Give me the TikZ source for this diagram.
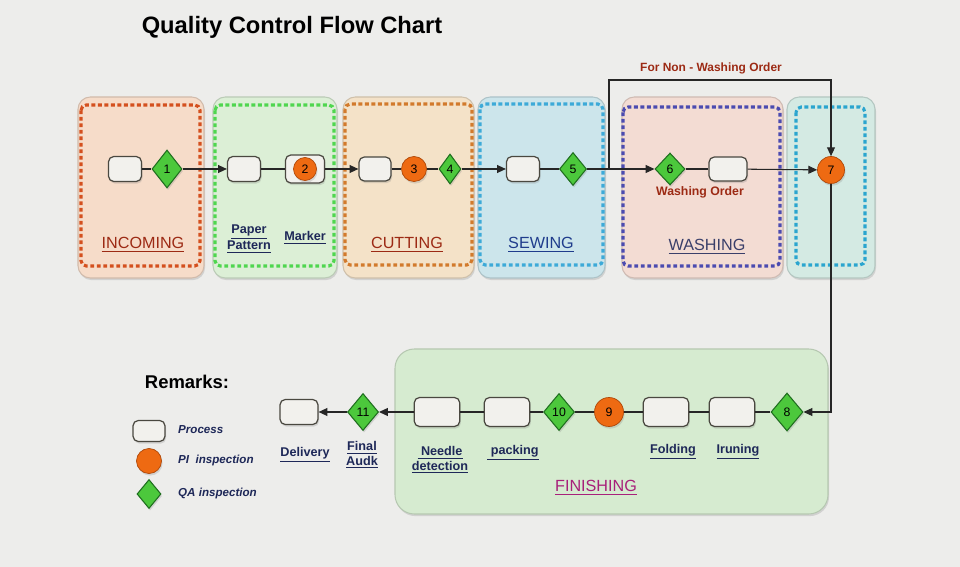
\documentclass[tikz,border=0pt]{standalone}
\usepackage{fontspec}
\setmainfont{Liberation Sans}
\usetikzlibrary{positioning,arrows.meta,shapes.geometric,shadows}
\definecolor{paper}{HTML}{EDEDEB}
\definecolor{incfill}{HTML}{F6DCC9}
\definecolor{incdash}{HTML}{D4501E}
\definecolor{patfill}{HTML}{DCEFD6}
\definecolor{patdash}{HTML}{4FD64F}
\definecolor{cutfill}{HTML}{F4E2C8}
\definecolor{cutdash}{HTML}{D27A2C}
\definecolor{sewfill}{HTML}{CCE5EB}
\definecolor{sewdash}{HTML}{3DAAD8}
\definecolor{wasfill}{HTML}{F3DCD3}
\definecolor{wasdash}{HTML}{4B4BB0}
\definecolor{lastfill}{HTML}{D4EAE3}
\definecolor{lastdash}{HTML}{2AA5CF}
\definecolor{finfill}{HTML}{D6EBD0}
\definecolor{procfill}{HTML}{F2F1ED}
\definecolor{procline}{HTML}{4A4840}
\definecolor{pifill}{HTML}{EE6A12}
\definecolor{pidraw}{HTML}{B04808}
\definecolor{qafill}{HTML}{4CC83C}
\definecolor{qadraw}{HTML}{1F6E1F}
\definecolor{darkred}{HTML}{9C2A14}
\definecolor{navy}{HTML}{1E2858}
\definecolor{sewblue}{HTML}{1F3C8C}
\definecolor{washgray}{HTML}{3A3F6A}
\definecolor{finmag}{HTML}{A8207A}

\begin{document}
\begin{tikzpicture}[x=0.02cm,y=-0.02cm,
  softshadow/.style={drop shadow={opacity=0.25,shadow xshift=0.6pt,shadow yshift=-1.2pt}},
  panel/.style={draw=#1!85!black,fill=#1,line width=0.6pt,rounded corners=7pt,softshadow},
  dashbox/.style={draw=#1,line width=1.8pt,dash pattern=on 2.2pt off 1.5pt,rounded corners=3pt},
  proc/.style={draw=procline,fill=procfill,line width=0.7pt,rounded corners=3pt,
    minimum width=0.66cm,minimum height=0.5cm,inner sep=0pt,softshadow},
  bigproc/.style={proc,minimum width=0.91cm,minimum height=0.58cm},
  pi/.style={circle,draw=pidraw,fill=pifill,minimum size=0.5cm,inner sep=0pt,
    font=\fontsize{7}{8}\selectfont,softshadow},
  qa/.style={diamond,draw=qadraw,fill=qafill,line width=0.6pt,minimum width=0.6cm,
    minimum height=0.76cm,inner sep=0pt,font=\fontsize{7}{8}\selectfont,softshadow},
  lbl/.style={font=\bfseries\fontsize{7.2}{8.4}\selectfont,text=navy,align=center},
  sec/.style={font=\fontsize{9.2}{11}\selectfont},
  key/.style={font=\bfseries\itshape\fontsize{6.6}{8}\selectfont,text=navy,anchor=west},
  flow/.style={draw=black!85,line width=0.6pt},
  arr/.style={flow,-{Triangle[length=5pt,width=4.5pt]}}]

\fill[paper] (0,0) rectangle (960,567);
\useasboundingbox (0,0) rectangle (960,567);

\node[font=\bfseries\fontsize{13.5}{16}\selectfont] (title) at (292,27) {Quality Control Flow Chart};

\foreach \xa/\xb/\ia/\ib/\ya/\yb/\fc/\dc in {78/204/81/200/105/266/incfill/incdash,
  213/337/215/334/105/266/patfill/patdash, 343/474/345/472/104/265/cutfill/cutdash,
  478/605/480/603/104/265/sewfill/sewdash, 622/783/623/780/107/266/wasfill/wasdash,
  787/875/796/865/107/265/lastfill/lastdash}{
  \draw[panel=\fc] (\xa,97) rectangle (\xb,278);
  \draw[dashbox=\dc] (\ia,\ya) rectangle (\ib,\yb);
}
\draw[panel=finfill,rounded corners=11pt] (395,349) rectangle (828,514);

\node[sec,text=darkred] (sInc) at (143,245) {\underline{INCOMING}};
\node[lbl] (lPap) at (249,239) {\underline{Paper}\\\underline{Pattern}};
\node[lbl] (lMar) at (305,238) {\underline{Marker}};
\node[sec,text=darkred] (sCut) at (407,245) {\underline{CUTTING}};
\node[sec,text=sewblue] (sSew) at (541,245) {\underline{SEWING}};
\node[sec,text=washgray] (sWas) at (707,247) {\underline{WASHING}};
\node[sec,text=finmag] (sFin) at (596,488) {\underline{FINISHING}};

\node[proc] (p1) at (125,169) {};
\node[qa] (q1) at (167,169) {1};
\node[proc] (p2) at (244,169) {};
\node[proc,minimum width=0.78cm,minimum height=0.56cm] (m2) at (305,169) {};
\node[pi,minimum size=0.46cm] (c2) at (305,169) {2};
\node[proc,minimum width=0.64cm,minimum height=0.48cm] (p3) at (375,169) {};
\node[pi] (c3) at (414,169) {3};
\node[qa,minimum width=0.44cm,minimum height=0.6cm] (q4) at (450,169) {4};
\node[proc] (p4) at (523,169) {};
\node[qa,minimum width=0.54cm,minimum height=0.66cm] (q5) at (573,169) {5};
\node[qa,minimum height=0.64cm] (q6) at (670,169) {6};
\node[proc,minimum width=0.76cm,minimum height=0.48cm] (p6) at (728,169) {};
\node[pi,minimum size=0.54cm] (c7) at (831,170) {7};
\node[font=\bfseries\fontsize{7}{8}\selectfont,text=darkred] (lWo) at (700,192) {Washing Order};
\node[font=\bfseries\fontsize{6.8}{8}\selectfont,text=darkred] (lNw) at (711,68) {For Non - Washing Order};

\node[qa,minimum width=0.64cm] (q8) at (787,412) {8};
\node[bigproc] (pIr) at (732,412) {};
\node[bigproc] (pFo) at (666,412) {};
\node[pi,minimum size=0.58cm] (c9) at (609,412) {9};
\node[qa,minimum width=0.62cm,minimum height=0.74cm] (q10) at (559,412) {10};
\node[bigproc] (pPa) at (507,412) {};
\node[bigproc] (pNe) at (437,412) {};
\node[qa,minimum width=0.62cm,minimum height=0.74cm] (q11) at (363,412) {11};
\node[proc,minimum width=0.76cm] (pDe) at (299,412) {};

\node[lbl] (lIr) at (738,452) {\underline{Iruning}};
\node[lbl] (lFo) at (673,452) {\underline{Folding}};
\node[lbl] (lPa) at (513,453) {\underline{\ packing}};
\node[lbl] (lNe) at (440,460) {\underline{\ Needle}\\\underline{detection}};
\node[lbl] (lFa) at (362,455) {\underline{Final}\\\underline{Audk}};
\node[lbl] (lDe) at (305,455) {\underline{Delivery}};

\draw[flow] (p1) -- (q1);
\draw[arr] (q1) -- (p2);
\draw[flow] (p2) -- (m2);
\draw[arr] (m2) -- (p3);
\draw[flow] (p3) -- (c3) -- (q4);
\draw[arr] (q4) -- (p4);
\draw[flow] (p4) -- (q5);
\draw[arr] (q5) -- (q6);
\draw[flow] (q6) -- (p6);
\draw[arr] (p6) -- (c7);
\coordinate (jn) at (609,169);
\coordinate (jt) at (609,80);
\draw[arr] (jn) -- (jt) -| (c7);
\draw[arr] (c7) |- (q8);
\draw[flow] (q8) -- (pIr) -- (pFo) -- (c9) -- (q10) -- (pPa) -- (pNe);
\draw[arr] (pNe) -- (q11);
\draw[arr] (q11) -- (pDe);

\node[font=\bfseries\fontsize{10.5}{12}\selectfont] (rem) at (187,382) {Remarks:};
\node[proc,minimum width=0.64cm,minimum height=0.42cm] (kP) at (149,431) {};
\node[pi] (kC) at (149,461) {};
\node[qa,minimum width=0.48cm,minimum height=0.58cm] (kQ) at (149,494) {};
\node[key] (tP) at (172,430) {Process};
\node[key] (tC) at (172,461) {PI\ \ inspection};
\node[key] (tQ) at (172,494) {QA inspection};
\end{tikzpicture}
\end{document}
